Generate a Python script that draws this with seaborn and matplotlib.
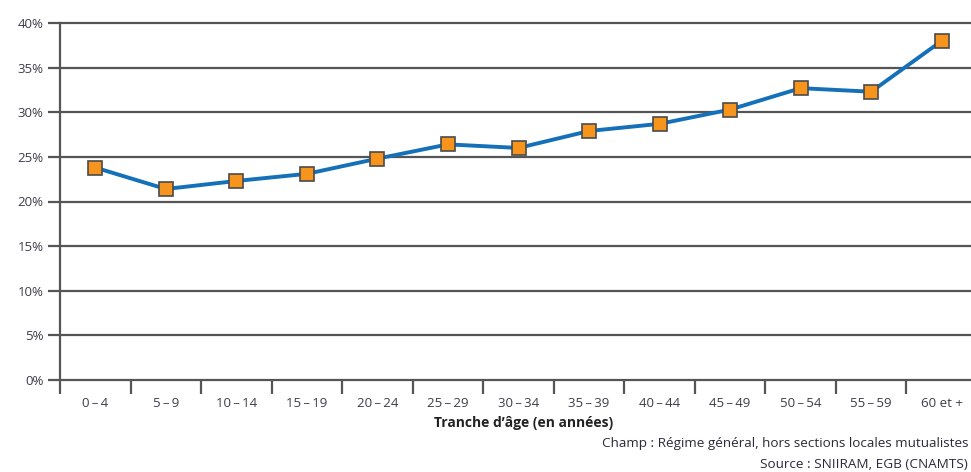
import matplotlib
matplotlib.use("Agg")
import matplotlib.pyplot as plt
import seaborn as sns
import pandas as pd
import numpy as np
from matplotlib.ticker import FixedLocator, FuncFormatter

# Tranches d'âge et part observée (%)
tranches = ["0\u2009\u2013\u20094", "5\u2009\u2013\u20099", "10\u2009\u2013\u200914",
            "15\u2009\u2013\u200919", "20\u2009\u2013\u200924", "25\u2009\u2013\u200929",
            "30\u2009\u2013\u200934", "35\u2009\u2013\u200939", "40\u2009\u2013\u200944",
            "45\u2009\u2013\u200949", "50\u2009\u2013\u200954", "55\u2009\u2013\u200959", "60 et +"]
part = [23.8, 21.4, 22.3, 23.1, 24.8, 26.4, 26.0, 27.9, 28.7, 30.3, 32.7, 32.3, 38.0]
y_ticks = [0, 5, 10, 15, 20, 25, 30, 35, 40]

sns.set_theme(style="white")
plt.rcParams["font.family"] = ["Open Sans", "DejaVu Sans"]

df = pd.DataFrame({"tranche": tranches, "part": part})
df["pos"] = np.arange(len(df))

fig = plt.figure(figsize=(9.71, 4.72), dpi=100)
W, H = 971, 472
ax = fig.add_axes([60 / W, (H - 380) / H, 917 / W, (380 - 23) / H])

grid_col = "#555555"
for v in y_ticks:
    ax.axhline(v, color=grid_col, lw=1.6, zorder=1, clip_on=False)

sns.lineplot(data=df, x="pos", y="part", ax=ax, color="#1470B8", lw=2.8,
             marker="s", markersize=10, markerfacecolor="#F7941D",
             markeredgecolor="#4a4a4a", markeredgewidth=1.2, zorder=3)

ax.set_xlim(-0.5, 12.5)
ax.set_ylim(0, 40)
for s in ["top", "right", "bottom"]:
    ax.spines[s].set_visible(False)
ax.spines["left"].set_color(grid_col)
ax.spines["left"].set_linewidth(1.6)

ax.set_yticks(y_ticks)
ax.yaxis.set_major_formatter(FuncFormatter(lambda v, p: f"{int(v)}%"))
ax.tick_params(axis="y", length=9, width=1.6, color=grid_col, pad=3,
               labelsize=9.5, labelcolor="#3d3d4a", left=True)

ax.set_xticks(df["pos"])
ax.set_xticklabels(tranches)
ax.xaxis.set_minor_locator(FixedLocator(np.arange(-0.5, 13, 1.0)))
ax.tick_params(axis="x", which="major", length=0, pad=12, labelsize=9.5, labelcolor="#3d3d4a")
ax.tick_params(axis="x", which="minor", length=10, width=1.6, color=grid_col, bottom=True)

ax.set_xlabel("Tranche d\u2019âge (en années)", fontsize=10, fontweight="bold",
              color="#222222")
ax.xaxis.set_label_coords((524 - 60) / 917, -(423 - 380) / (380 - 23))
ax.xaxis.label.set_va("center")
ax.set_ylabel("")

# Notes de bas de graphique, alignées à droite
fig.text(968 / W, 1 - 444 / H, "Champ : Régime général, hors sections locales mutualistes",
         fontsize=9.7, color="#2a2a3a", ha="right", va="center")
fig.text(968 / W, 1 - 464 / H, "Source : SNIIRAM, EGB (CNAMTS)",
         fontsize=9.7, color="#2a2a3a", ha="right", va="center")

fig.savefig("out.png", dpi=100)
